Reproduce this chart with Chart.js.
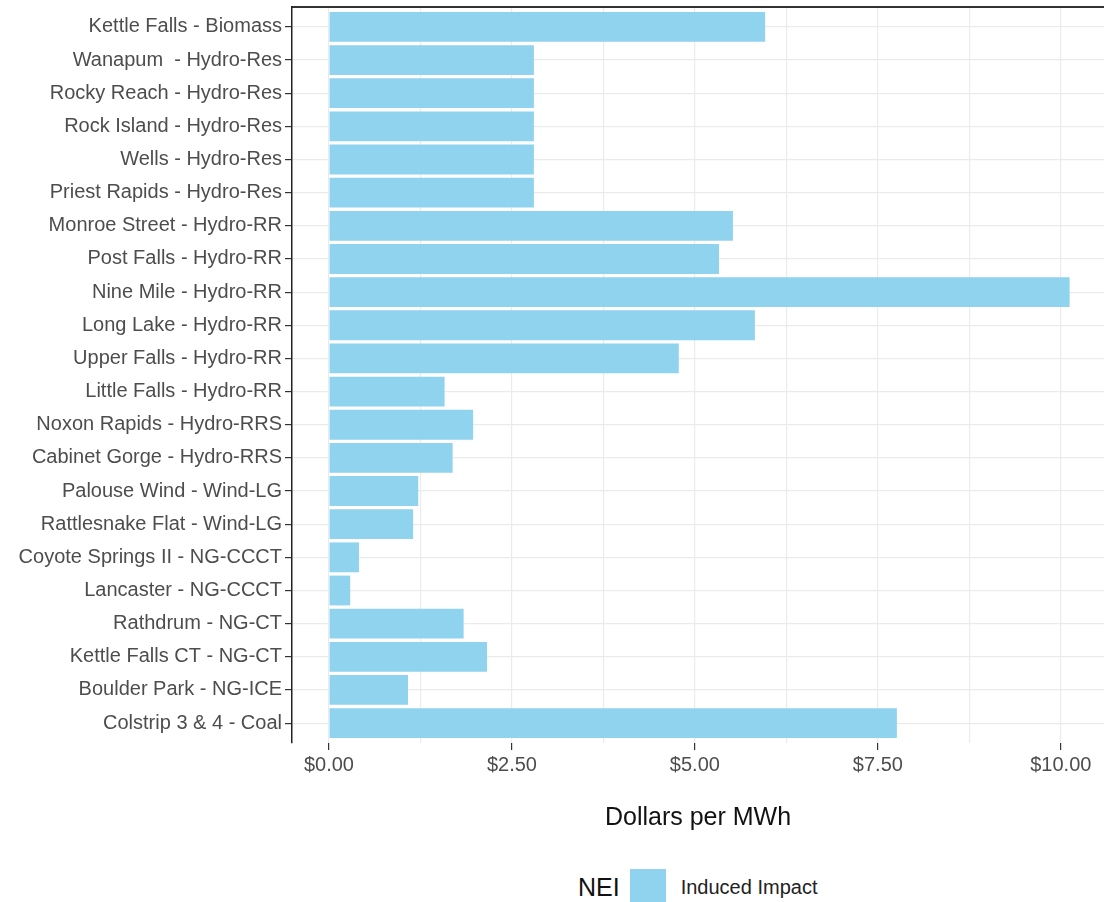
<!DOCTYPE html>
<html>
<head>
<title>NEI</title>
<script src="https://cdn.jsdelivr.net/npm/chart.js@4"></script>
<style>
    body { margin:0; background:#fff; font-family:"Liberation Sans", Arial, sans-serif; }
    #wrap { position:relative; width:1104px; height:902px; overflow:hidden; }
    #legend { position:absolute; left:578px; top:869px; display:flex; align-items:center; }
    #legend .ttl { font-size:25px; color:#111; margin-right:10px; }
    #legend .box { width:36px; height:36px; margin-right:15px; }
    #legend .lbl { font-size:20px; color:#222; }
</style>
</head>
<body>
<div id="wrap">
    <canvas id="myChart" width="1104" height="850"></canvas>
    <div id="legend"></div>
</div>
<script>
// plants, top to bottom
let plants = [
    'Kettle Falls - Biomass',
    'Wanapum  - Hydro-Res',
    'Rocky Reach - Hydro-Res',
    'Rock Island - Hydro-Res',
    'Wells - Hydro-Res',
    'Priest Rapids - Hydro-Res',
    'Monroe Street - Hydro-RR',
    'Post Falls - Hydro-RR',
    'Nine Mile - Hydro-RR',
    'Long Lake - Hydro-RR',
    'Upper Falls - Hydro-RR',
    'Little Falls - Hydro-RR',
    'Noxon Rapids - Hydro-RRS',
    'Cabinet Gorge - Hydro-RRS',
    'Palouse Wind - Wind-LG',
    'Rattlesnake Flat - Wind-LG',
    'Coyote Springs II - NG-CCCT',
    'Lancaster - NG-CCCT',
    'Rathdrum - NG-CT',
    'Kettle Falls CT - NG-CT',
    'Boulder Park - NG-ICE',
    'Colstrip 3 & 4 - Coal'
];
// dollars per MWh
let induced = [5.96, 2.80, 2.80, 2.80, 2.80, 2.80, 5.52, 5.33, 10.12, 5.82, 4.78, 1.58,
               1.97, 1.69, 1.22, 1.15, 0.41, 0.29, 1.84, 2.16, 1.08, 7.76];
let xTicks = [0, 1.25, 2.5, 3.75, 5, 6.25, 7.5, 8.75, 10];
let majorTicks = [0, 2.5, 5, 7.5, 10];
let seriesName = 'Induced Impact';
let legendTitle = 'NEI';
let barColor = '#8fd3ef';

function isMajor(v) { return majorTicks.indexOf(v) >= 0; }

// y is a linear index axis so the ggplot 0.6 band padding can be kept
var points = induced.map(function(v, i) { return { x: v, y: i }; });

var ctx = document.getElementById('myChart').getContext('2d');
var myChart = new Chart(ctx, {
    type: 'bar',
    data: {
        datasets: [{
            label: seriesName,
            data: points,
            backgroundColor: barColor,
            borderWidth: 0,
            barPercentage: 0.9,
            categoryPercentage: 1
        }]
    },
    options: {
        indexAxis: 'y',
        responsive: false,
        animation: false,
        layout: { padding: { top: 7, right: 0, left: 0, bottom: 0 } },
        plugins: {
            legend: { display: false },
            tooltip: { enabled: false }
        },
        scales: {
            x: {
                type: 'linear',
                position: 'bottom',
                min: -0.505,
                max: 10.59,
                afterBuildTicks: function(s) {
                    s.ticks = xTicks.map(function(v) { return { value: v }; });
                },
                afterFit: function(s) { s.height = 107; },
                ticks: {
                    autoSkip: false,
                    maxRotation: 0,
                    padding: 3,
                    color: '#4d4d4d',
                    font: { family: 'Liberation Sans', size: 20 },
                    callback: function(v) { return isMajor(v) ? '$' + v.toFixed(2) : ''; }
                },
                grid: {
                    color: '#ebebeb',
                    lineWidth: 1.2,
                    tickLength: 7,
                    tickColor: function(c) { return c.tick && isMajor(c.tick.value) ? '#333' : 'rgba(0,0,0,0)'; }
                },
                border: { display: false },
                title: {
                    display: true,
                    text: 'Dollars per MWh',
                    color: '#111',
                    font: { family: 'Liberation Sans', size: 25 },
                    padding: { top: 10, bottom: 17 }
                }
            },
            x2: {
                type: 'linear',
                position: 'top',
                min: -0.505,
                max: 10.59,
                ticks: { display: false },
                grid: { display: false, drawTicks: false },
                border: { display: true, color: '#333', width: 2 }
            },
            y: {
                type: 'linear',
                reverse: true,
                offset: false,
                min: -0.6,
                max: plants.length - 0.4,
                afterBuildTicks: function(s) {
                    s.ticks = plants.map(function(p, i) { return { value: i }; });
                },
                afterFit: function(s) {
                    s.width = 292;
                    s.paddingTop = 0;
                    s.paddingBottom = 0;
                },
                ticks: {
                    autoSkip: false,
                    padding: 3,
                    color: '#4d4d4d',
                    font: { family: 'Liberation Sans', size: 20 },
                    callback: function(v) { return plants[v]; }
                },
                grid: {
                    offset: false,
                    color: '#ebebeb',
                    lineWidth: 1.2,
                    tickLength: 7,
                    tickColor: '#333'
                },
                border: { color: '#222', width: 1.5 }
            }
        }
    }
});

// legend like ggplot, under the chart
var lg = document.getElementById('legend');
lg.innerHTML = '<span class="ttl">' + legendTitle + '</span>' +
    '<span class="box" style="background:' + barColor + '"></span>' +
    '<span class="lbl">' + seriesName + '</span>';
</script>
</body>
</html>
